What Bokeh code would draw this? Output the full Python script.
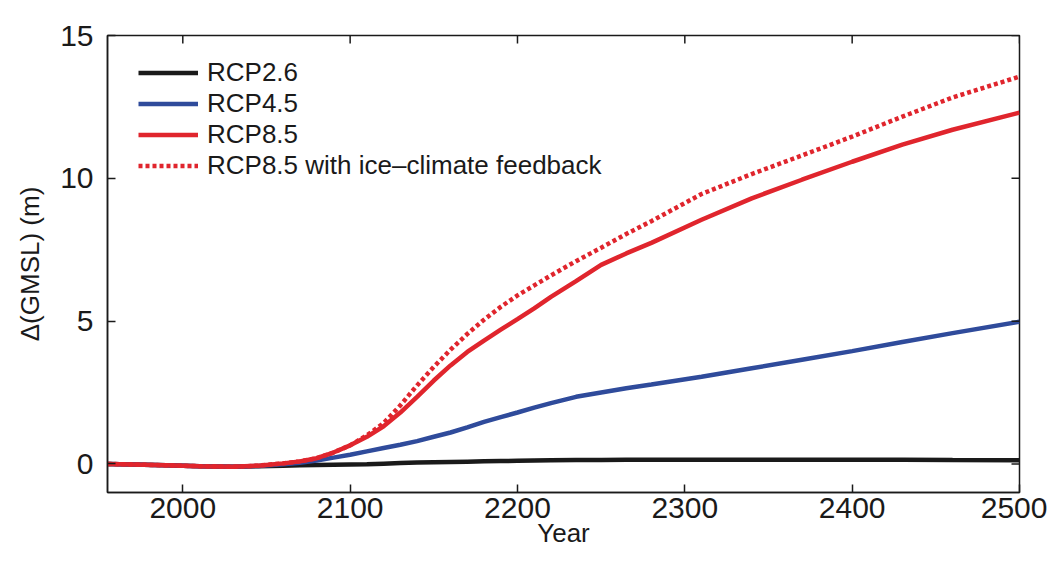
import math
from bokeh.plotting import figure
from bokeh.models import FixedTicker, Range1d, Legend, LegendItem
from bokeh.embed import file_html
from bokeh.resources import INLINE

years = [1955, 1970, 1990, 2010, 2030, 2045, 2060, 2070, 2080, 2090, 2100, 2110,
         2120, 2130, 2140, 2150, 2160, 2170, 2180, 2190, 2200, 2210, 2220, 2235,
         2250, 2265, 2280, 2310, 2340, 2370, 2400, 2430, 2460, 2500]
rcp26 = [0.0, -0.02, -0.05, -0.08, -0.1, -0.08, -0.06, -0.05, -0.04, -0.03, -0.02, -0.01,
         0.01, 0.03, 0.05, 0.06, 0.07, 0.08, 0.09, 0.1, 0.11, 0.12, 0.13, 0.135,
         0.14, 0.145, 0.15, 0.15, 0.15, 0.15, 0.15, 0.15, 0.14, 0.13]
rcp45 = [0.0, -0.02, -0.05, -0.08, -0.1, -0.07, -0.01, 0.04, 0.12, 0.22, 0.32, 0.44,
         0.56, 0.67, 0.8, 0.95, 1.1, 1.28, 1.47, 1.64, 1.8, 1.97, 2.13, 2.35,
         2.5, 2.65, 2.78, 3.05, 3.35, 3.65, 3.95, 4.27, 4.58, 4.98]
rcp85 = [0.0, -0.02, -0.05, -0.08, -0.1, -0.06, 0.02, 0.09, 0.2, 0.4, 0.65, 0.95,
         1.32, 1.8, 2.35, 2.92, 3.45, 3.92, 4.32, 4.7, 5.07, 5.45, 5.85, 6.4,
         6.97, 7.37, 7.74, 8.55, 9.3, 9.95, 10.58, 11.18, 11.7, 12.3]
rcp85_fb = [0.0, -0.02, -0.05, -0.08, -0.1, -0.06, 0.02, 0.09, 0.2, 0.4, 0.65, 1.0,
            1.43, 2.05, 2.75, 3.4, 4.0, 4.55, 5.05, 5.5, 5.9, 6.25, 6.6, 7.1,
            7.57, 8.05, 8.5, 9.45, 10.15, 10.8, 11.46, 12.16, 12.83, 13.56]

x_ticks = [2000, 2100, 2200, 2300, 2400, 2500]
y_ticks = [0, 5, 10, 15]
x_min, x_max = 1955, 2500
y_min, y_max = -1, 15
labels = ["RCP2.6", "RCP4.5", "RCP8.5", "RCP8.5 with ice\u2013climate feedback"]

BLACK = "#1a1a1a"
BLUE = "#2f4b9b"
RED = "#e0252d"
FONT = "Liberation Sans"

p = figure(frame_width=912, frame_height=457, output_backend="svg",
           toolbar_location=None, x_range=Range1d(x_min, x_max), y_range=Range1d(y_min, y_max),
           min_border_left=107, min_border_top=35, min_border_right=28, min_border_bottom=4)
p.grid.visible = False
p.outline_line_color = BLACK
p.outline_line_width = 1.5
p.background_fill_color = "white"
p.border_fill_color = "white"

r1 = p.line(years, rcp26, line_color=BLACK, line_width=4.5)
r2 = p.line(years, rcp45, line_color=BLUE, line_width=4.5)
r4 = p.line(years, rcp85_fb, line_color=RED, line_width=4.5, line_dash="4 3")
r3 = p.line(years, rcp85, line_color=RED, line_width=4.5)

# inward ticks on the top and right edges of the box
p.ray(x=x_ticks, y=[y_max] * len(x_ticks), length=8, length_units="screen",
      angle=-math.pi / 2, line_color=BLACK, line_width=1.5)
p.ray(x=[x_max] * len(y_ticks), y=y_ticks, length=8, length_units="screen",
      angle=math.pi, line_color=BLACK, line_width=1.5)

p.xaxis.ticker = FixedTicker(ticks=x_ticks)
p.yaxis.ticker = FixedTicker(ticks=y_ticks)
for ax in (p.xaxis[0], p.yaxis[0]):
    ax.axis_line_color = BLACK
    ax.axis_line_width = 1.5
    ax.major_tick_in = 8
    ax.major_tick_out = 0
    ax.major_tick_line_color = BLACK
    ax.major_tick_line_width = 1.5
    ax.minor_tick_line_color = None
    ax.major_label_text_font = FONT
    ax.major_label_text_font_size = "30px"
    ax.major_label_text_color = BLACK
    ax.axis_label_text_font = FONT
    ax.axis_label_text_font_style = "normal"
    ax.axis_label_text_color = BLACK
p.xaxis.major_label_standoff = 5
p.yaxis.major_label_standoff = 14
p.yaxis.axis_label = "\u0394(GMSL) (m)"
p.yaxis.axis_label_text_font_size = "26px"
p.yaxis.axis_label_standoff = 12
p.xaxis.axis_label = "Year"
p.xaxis.axis_label_text_font_size = "26px"
p.xaxis.axis_label_standoff = -3

legend = Legend(items=[LegendItem(label=labels[0], renderers=[r1]),
                       LegendItem(label=labels[1], renderers=[r2]),
                       LegendItem(label=labels[2], renderers=[r3]),
                       LegendItem(label=labels[3], renderers=[r4])],
                location=(31, 311), margin=0, padding=10, spacing=0,
                glyph_width=60, glyph_height=29, label_height=29,
                label_standoff=9, label_text_font=FONT, label_text_font_size="26px",
                label_text_color=BLACK, border_line_color=None,
                background_fill_alpha=0)
p.add_layout(legend, "center")

open("out.html", "w").write(file_html(p, INLINE))
